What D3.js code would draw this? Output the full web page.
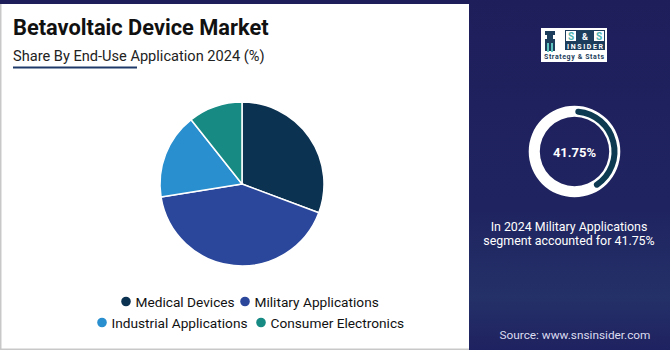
<!DOCTYPE html>
<html><head><meta charset="utf-8">
<script src="https://cdn.jsdelivr.net/npm/d3@7"></script>
<style>html,body{margin:0;padding:0;background:#fff}svg{display:block}</style>
</head><body>
<script>
const categories = ["Medical Devices","Military Applications","Industrial Applications","Consumer Electronics"];
const shares = [30.7, 41.75, 16.9, 10.65];
const colors = ["#0c3252","#2a479c","#2a8fcf","#178a84"];
const highlightValue = 41.75;
const titleText = "Betavoltaic Device Market";
const subtitleText = "Share By End-Use Application 2024 (%)";
const noteLines = ["In 2024 Military Applications","segment accounted for 41.75%"];
const sourceText = "Source: www.snsinsider.com";

const W=670,H=350;
const svg=d3.select("body").append("svg").attr("width",W).attr("height",H);
const defs=svg.append("defs");
const g=defs.append("linearGradient").attr("id","rg").attr("x1",0).attr("y1",0).attr("x2",0).attr("y2",1);
g.append("stop").attr("offset","0%").attr("stop-color","#1e1e5b");
g.append("stop").attr("offset","60%").attr("stop-color","#1f2460");
g.append("stop").attr("offset","85%").attr("stop-color","#243068");
g.append("stop").attr("offset","100%").attr("stop-color","#1f2260");

svg.append("rect").attr("width",W).attr("height",H).attr("fill","#1e1e5b");
svg.append("rect").attr("x",469).attr("y",0).attr("width",W-469).attr("height",H).attr("fill","url(#rg)");
svg.append("rect").attr("x",0).attr("y",4).attr("width",469).attr("height",346).attr("fill","#c8c8c8");
svg.append("rect").attr("x",1.5).attr("y",4).attr("width",467.5).attr("height",344.5).attr("fill","#ffffff");

const font="Roboto, 'Noto Sans', sans-serif";
svg.append("text").attr("x",13).attr("y",35).attr("font-family",font).attr("font-weight",700)
  .attr("font-size",21.8).attr("fill","#111").text(titleText);
svg.append("text").attr("x",13).attr("y",61).attr("font-family",font).attr("font-size",14.6)
  .attr("fill","#222").text(subtitleText);
svg.append("rect").attr("x",13).attr("y",66.5).attr("width",124).attr("height",2).attr("fill","#1f3a6a");

// pie
const cx=242, cy=184, r=82;
const pie=d3.pie().sort(null).value(d=>d)(shares);
const arc=d3.arc().innerRadius(0).outerRadius(r);
svg.append("g").attr("transform",`translate(${cx},${cy})`).selectAll("path").data(pie).join("path")
  .attr("d",arc).attr("fill",(d,i)=>colors[i]).attr("stroke","#fff").attr("stroke-width",1.5).attr("stroke-linejoin","round");

// legend
const legendPos=[[126,301.5,0],[245,301.5,1],[102,322.5,2],[261,322.5,3]];
const lg=svg.append("g");
legendPos.forEach(([x,y,i])=>{
  lg.append("circle").attr("cx",x).attr("cy",y).attr("r",4.8).attr("fill",colors[i]);
  lg.append("text").attr("x",x+9.5).attr("y",y+5).attr("font-family",font).attr("font-size",13.7)
    .attr("fill","#111").text(categories[i]);
});

// logo
const lx=541, ly=28;
const logo=svg.append("g");
logo.append("rect").attr("x",lx).attr("y",ly).attr("width",66).attr("height",34).attr("fill","#fff");
logo.append("path").attr("d",`M${lx+4} ${ly+3} h10 v4 h-2 v4 h2 v12 h-10 v-12 h2 v-4 h-2 z`).attr("fill","#1d3d5c");
logo.append("rect").attr("x",lx+6).attr("y",ly+15).attr("width",2).attr("height",9).attr("fill","#5fc3c0");
logo.append("rect").attr("x",lx+10).attr("y",ly+15).attr("width",2).attr("height",9).attr("fill","#5fc3c0");
logo.append("rect").attr("x",lx+24).attr("y",ly+2).attr("width",40).attr("height",20).attr("fill","#1d3d5c");
logo.append("rect").attr("x",lx+25).attr("y",ly+3).attr("width",10).attr("height",10).attr("fill","#fff");
logo.append("rect").attr("x",lx+53).attr("y",ly+3).attr("width",10).attr("height",10).attr("fill","#fff");
logo.append("text").attr("x",lx+30).attr("y",ly+12).attr("text-anchor","middle").attr("font-family",font).attr("font-weight",700).attr("font-size",10).attr("fill","#4fb6b2").text("S");
logo.append("text").attr("x",lx+44).attr("y",ly+12).attr("text-anchor","middle").attr("font-family",font).attr("font-weight",700).attr("font-size",9).attr("fill","#fff").text("&");
logo.append("text").attr("x",lx+58).attr("y",ly+12).attr("text-anchor","middle").attr("font-family",font).attr("font-weight",700).attr("font-size",10).attr("fill","#4fb6b2").text("S");
logo.append("text").attr("x",lx+44).attr("y",ly+20.5).attr("text-anchor","middle").attr("font-family",font).attr("font-weight",700).attr("font-size",7).attr("fill","#fff").attr("textLength",36).text("INSIDER");
logo.append("text").attr("x",lx+33).attr("y",ly+31).attr("text-anchor","middle").attr("font-family",font).attr("font-weight",700).attr("font-size",7).attr("fill","#1d3d5c").attr("textLength",60).text("Strategy & Stats");

// donut
const dx=574.5, dy=151.5;
const dg=svg.append("g").attr("transform",`translate(${dx},${dy})`);
dg.append("path").attr("d",d3.arc().innerRadius(34.7).outerRadius(45.8).startAngle(0).endAngle(2*Math.PI)()).attr("fill","#fff");
const hiEnd=2*Math.PI*highlightValue/100;
dg.append("path").attr("d",d3.arc().innerRadius(37).outerRadius(43).startAngle(0.02).endAngle(hiEnd).cornerRadius(3)()).attr("fill","#0d3a50");
dg.append("text").attr("x",0).attr("y",5).attr("text-anchor","middle").attr("font-family",font).attr("font-weight",700)
  .attr("font-size",13).attr("fill","#fff").text(highlightValue.toFixed(2)+"%");

noteLines.forEach((t,i)=>{
  svg.append("text").attr("x",569).attr("y",230.5+i*14.8).attr("text-anchor","middle").attr("font-family",font)
    .attr("font-size",12.4).attr("fill","#fff").text(t);
});
svg.append("text").attr("x",575).attr("y",338.5).attr("text-anchor","middle").attr("font-family",font)
  .attr("font-size",11.8).attr("fill","#dcdcf0").text(sourceText);
</script>
</body></html>
